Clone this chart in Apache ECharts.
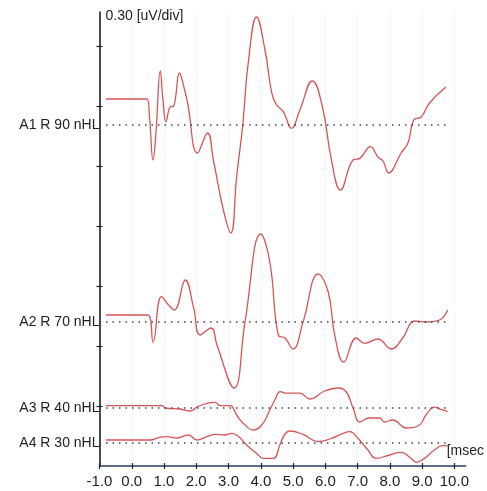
<!DOCTYPE html>
<html>
<head>
<meta charset="utf-8">
<script src="https://cdn.jsdelivr.net/npm/echarts@6/dist/echarts.min.js"></script>
<style>
  html, body { margin: 0; padding: 0; background: #fff; }
  #chart { width: 487px; height: 491px; }
</style>
</head>
<body>
<div id="chart"></div>
<script>
// trace names and their baseline levels (uV from the bottom of the plot)
const traceNames = ["A1 R 90 nHL", "A2 R 70 nHL", "A3 R 40 nHL", "A4 R 30 nHL"];
const baselines = [1.705, 0.72, 0.29, 0.115];

// [msec, uV offset from baseline]
const traceA1 = [
  [-0.8, 0.13], [0.47, 0.13], [0.55, 0.04], [0.66, -0.175], [0.75, -0.04], [0.885, 0.27],
  [0.97, 0.12], [1.06, 0.017], [1.19, 0.09], [1.3, 0.095], [1.48, 0.26], [1.6, 0.2],
  [1.73, 0.11], [2.04, -0.14], [2.35, -0.04], [2.53, -0.175], [2.84, -0.425], [3.07, -0.54],
  [3.25, -0.26], [3.44, 0], [3.61, 0.31], [3.87, 0.54], [4.13, 0.375], [4.34, 0.16],
  [4.49, 0.1], [4.7, 0.067], [4.95, -0.017], [5.21, 0.075], [5.6, 0.22], [5.91, 0.09],
  [6.19, -0.175], [6.47, -0.325], [6.86, -0.175], [7.07, -0.167], [7.4, -0.108], [7.63, -0.16],
  [7.79, -0.18], [7.96, -0.24], [8.35, -0.14], [8.56, -0.09], [8.74, 0.025], [8.97, 0.04],
  [9.23, 0.11], [9.74, 0.19]
];
const traceA2 = [
  [-0.8, 0.035], [0.5, 0.035], [0.66, -0.1], [0.92, 0.127], [1.14, 0.085], [1.32, 0.06],
  [1.66, 0.21], [1.92, 0.069], [2.12, -0.065], [2.46, -0.03], [2.64, -0.115], [3.17, -0.33],
  [3.51, 0], [4.0, 0.44], [4.28, 0.3], [4.54, -0.065], [4.75, -0.08], [5.0, -0.135],
  [5.31, 0], [5.78, 0.24], [6.09, 0.15], [6.29, -0.065], [6.57, -0.2], [6.96, -0.08],
  [7.22, -0.107], [7.63, -0.085], [8.04, -0.135], [8.4, -0.08], [8.77, 0.005], [9.12, 0],
  [9.54, 0.01], [9.79, 0.06]
];
const traceA3 = [
  [-0.8, 0.012], [0.94, 0.012], [1.04, 0], [1.5, -0.005], [1.81, -0.015], [2.04, 0.007],
  [2.33, 0.023], [2.58, 0.028], [2.74, 0.012], [3.05, 0.012], [3.25, -0.035], [3.46, -0.077],
  [3.77, -0.11], [4.03, -0.085], [4.28, -0.01], [4.45, 0.045], [4.6, 0.082], [4.8, 0.074],
  [5.21, 0.074], [5.52, 0.045], [5.98, 0.085], [6.4, 0.1], [6.65, 0.08], [6.86, 0],
  [7.07, -0.07], [7.37, -0.05], [7.68, -0.05], [7.84, -0.07], [8.09, -0.06], [8.51, -0.1],
  [8.92, -0.085], [9.12, -0.035], [9.38, 0.004], [9.59, -0.007], [9.79, -0.018]
];
const traceA4 = [
  [-0.8, 0.015], [0.58, 0.015], [0.83, 0.027], [1.09, 0.032], [1.4, 0.025], [1.76, 0.04],
  [2.02, 0.015], [2.33, 0.032], [2.58, 0.043], [2.89, 0.04], [3.1, 0.048], [3.31, 0.032],
  [3.56, -0.01], [3.87, -0.052], [4.08, -0.077], [4.39, -0.077], [4.59, -0.01], [4.75, 0.045],
  [4.9, 0.06], [5.31, 0.043], [5.78, 0.007], [6.14, 0.02], [6.55, 0.048], [6.76, 0.057],
  [7.01, 0.024], [7.32, -0.035], [7.58, -0.077], [7.99, -0.06], [8.35, -0.047], [8.66, -0.077],
  [8.82, -0.097], [9.07, -0.077], [9.38, -0.035], [9.64, -0.013], [9.79, -0.013]
];

const xTicks = [-1, 0, 1, 2, 3, 4, 5, 6, 7, 8, 9, 10];
const yTicks = [0.3, 0.6, 0.9, 1.2, 1.5, 1.8, 2.1];
const dotStart = -1;
const dotEnd = 9.8;

const traces = [traceA1, traceA2, traceA3, traceA4];
const chart = echarts.init(document.getElementById("chart"));

const series = traces.map((t, i) => ({
  type: "line",
  name: traceNames[i],
  data: t.map((p) => [p[0], +(baselines[i] + p[1]).toFixed(4)]),
  symbol: "none",
  smooth: 0.45,
  lineStyle: { color: "#d75555", width: 1.3 },
  z: 3,
  markLine: {
    silent: true,
    symbol: "none",
    label: { show: false },
    lineStyle: { color: "#444", type: [1.5, 5], width: 1.5 },
    data: [[{ coord: [dotStart, baselines[i]] }, { coord: [dotEnd, baselines[i]] }]],
  },
}));

const axisText = { color: "#222", fontFamily: "Liberation Sans, Arial, sans-serif" };

chart.setOption({
  animation: false,
  grid: { left: 99.5, right: 20.3, top: 12, bottom: 25 },
  xAxis: [
    {
      type: "value",
      min: -1,
      max: 10.35,
      name: "[msec",
      nameLocation: "end",
      nameGap: -19,
      nameTextStyle: { ...axisText, fontSize: 14, align: "left", verticalAlign: "bottom", padding: [0, 0, 8, 0] },
      axisLine: { onZero: false, lineStyle: { color: "#2a3b5e", width: 1.5 } },
      axisTick: { customValues: xTicks, length: 3, lineStyle: { color: "#222", width: 1.2 } },
      axisLabel: { ...axisText, customValues: xTicks, fontSize: 15, margin: 8, formatter: (v) => v.toFixed(1) },
      splitLine: { show: true, lineStyle: { color: "#f5f5f5", width: 1 } },
    },
    {
      type: "value",
      position: "bottom",
      min: -1,
      max: 10.35,
      axisLine: { show: false, onZero: false },
      axisTick: { customValues: xTicks, inside: true, length: 3, lineStyle: { color: "#222", width: 1.2 } },
      axisLabel: { show: false },
      splitLine: { show: false },
    },
  ],
  yAxis: [
    {
      type: "value",
      min: 0,
      max: 2.27,
      name: "0.30 [uV/div]",
      nameLocation: "end",
      nameGap: -4,
      nameTextStyle: { ...axisText, fontSize: 14, align: "left", verticalAlign: "middle", padding: [0, 0, 0, 6] },
      axisLine: { show: true, onZero: false, lineStyle: { color: "#111", width: 1.5 } },
      axisTick: { show: true, customValues: yTicks, length: 3, lineStyle: { color: "#222", width: 1.2 } },
      axisLabel: {
        ...axisText,
        fontSize: 14,
        margin: 0,
        customValues: baselines,
        formatter: (v) => {
          let best = 0;
          baselines.forEach((b, i) => { if (Math.abs(b - v) < Math.abs(baselines[best] - v)) best = i; });
          return traceNames[best];
        },
      },
      splitLine: { show: false },
    },
    {
      type: "value",
      position: "left",
      min: 0,
      max: 2.27,
      axisLine: { show: false, onZero: false },
      axisTick: { show: true, customValues: yTicks, inside: true, length: 3, lineStyle: { color: "#222", width: 1.2 } },
      axisLabel: { show: false },
      splitLine: { show: false },
    },
  ],
  series: series,
});
</script>
</body>
</html>
